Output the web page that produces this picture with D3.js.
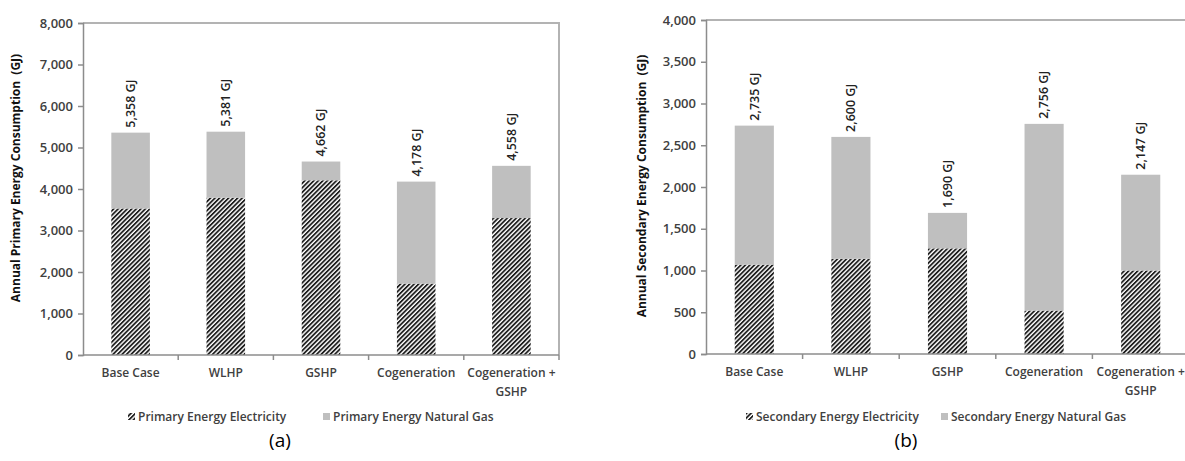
<!DOCTYPE html>
<html>
<head>
<meta charset="utf-8">
<script src="https://cdn.jsdelivr.net/npm/d3@7"></script>
<style>
  body { margin: 0; background: #fff; }
  svg { font-family: "Open Sans", sans-serif; }
</style>
</head>
<body>
<svg id="fig" width="1185" height="461"></svg>
<script>
// categories shared by both charts
var categories = ["Base Case", "WLHP", "GSHP", "Cogeneration", "Cogeneration + GSHP"]

// (a) primary energy, GJ
var primaryElectricity = [3530, 3790, 4210, 1720, 3300]
var primaryGas = [1828, 1591, 452, 2458, 1258]

// (b) secondary energy, GJ
var secondaryElectricity = [1070, 1140, 1265, 520, 1000]
var secondaryGas = [1665, 1460, 425, 2236, 1147]

var svg = d3.select("#fig")

//drawing style
var gasColor = "#bfbfbf"
var hatchColor = "#1f1f1f"
var axisColor = "#8c8c8c"
var borderColor = "#b3b3b3"
var textColor = "#404040"

//hatch pattern for electricity
var defs = svg.append("defs")
defs.append("pattern")
    .attr("id", "hatch")
    .attr("patternUnits", "userSpaceOnUse")
    .attr("width", 3.2)
    .attr("height", 3.2)
    .attr("patternTransform", "rotate(45)")
  .call(p => {
      p.append("rect").attr("width", 3.2).attr("height", 3.2).attr("fill", "#fff")
      p.append("rect").attr("width", 1.8).attr("height", 3.2).attr("fill", hatchColor)
  })

function drawChart(opts) {
    var g = svg.append("g")

    var x = d3.scaleBand()
              .domain(categories)
              .range([opts.left, opts.right])
    var y = d3.scaleLinear()
              .domain([0, opts.max])
              .range([opts.bottom, opts.top])

    var barWidth = x.bandwidth() * 0.405

    //frame: top and right border
    g.append("path")
     .attr("d", `M${opts.left},${opts.top}H${opts.right}V${opts.bottom}`)
     .attr("fill", "none")
     .attr("stroke", borderColor)
     .attr("stroke-width", 2)

    //bars
    var stacks = categories.map((c, i) => ({cat: c, elec: opts.elec[i], gas: opts.gas[i]}))

    g.selectAll(".elec")
     .data(stacks)
     .enter()
     .append("rect")
     .attr("x", d => x(d.cat) + (x.bandwidth() - barWidth) / 2)
     .attr("width", barWidth)
     .attr("y", d => y(d.elec))
     .attr("height", d => y(0) - y(d.elec))
     .attr("fill", "url(#hatch)")

    g.selectAll(".gas")
     .data(stacks)
     .enter()
     .append("rect")
     .attr("x", d => x(d.cat) + (x.bandwidth() - barWidth) / 2)
     .attr("width", barWidth)
     .attr("y", d => y(d.elec + d.gas))
     .attr("height", d => y(d.elec) - y(d.elec + d.gas))
     .attr("fill", gasColor)

    //total labels
    g.selectAll(".total")
     .data(stacks)
     .enter()
     .append("text")
     .attr("transform", d => `translate(${x(d.cat) + x.bandwidth() / 2},${y(d.elec + d.gas) - 5}) rotate(-90)`)
     .attr("dy", "0.35em")
     .attr("font-size", 12.5)
     .attr("font-weight", 600)
     .attr("fill", "#222")
     .text(d => d3.format(",")(d.elec + d.gas) + " GJ")

    //y axis
    var yAxis = g.append("g")
                 .attr("transform", `translate(${opts.left},0)`)
                 .call(d3.axisLeft(y).tickValues(d3.range(0, opts.max + 1, opts.step)).tickFormat(d3.format(",")).tickSize(5).tickPadding(5))
    yAxis.select(".domain").attr("stroke", axisColor).attr("stroke-width", 1.5)
    yAxis.selectAll(".tick line").attr("stroke", axisColor).attr("stroke-width", 1.5)
    yAxis.selectAll(".tick text").attr("font-size", 13).attr("font-weight", 600).attr("fill", textColor).attr("font-family", "Open Sans")

    //x axis line and boundary ticks
    g.append("line")
     .attr("x1", opts.left).attr("x2", opts.right)
     .attr("y1", opts.bottom).attr("y2", opts.bottom)
     .attr("stroke", axisColor).attr("stroke-width", 1.5)
    g.selectAll(".xtick")
     .data(categories.slice(1).map(c => x(c)).concat([opts.right]))
     .enter()
     .append("line")
     .attr("x1", d => d).attr("x2", d => d)
     .attr("y1", opts.bottom).attr("y2", opts.bottom + 5)
     .attr("stroke", axisColor).attr("stroke-width", 1.5)

    //category labels
    var cat = g.selectAll(".cat")
               .data(categories)
               .enter()
               .append("text")
               .attr("text-anchor", "middle")
               .attr("font-size", 12)
               .attr("font-weight", 600)
               .attr("fill", textColor)
               .attr("y", opts.bottom + 22)
    cat.each(function(d) {
        var lines = d.indexOf(" + ") > 0 ? [d.split(" + ")[0] + " +", d.split(" + ")[1]] : [d]
        d3.select(this).selectAll("tspan")
          .data(lines)
          .enter()
          .append("tspan")
          .attr("x", x(d) + x.bandwidth() / 2)
          .attr("dy", (l, i) => i == 0 ? 0 : 19)
          .text(l => l)
    })

    //y axis title
    g.append("text")
     .attr("transform", `translate(${opts.titleX},${opts.titleY}) rotate(-90)`)
     .attr("text-anchor", "middle")
     .attr("dy", "0.35em")
     .attr("font-size", 12)
     .attr("font-weight", "bold")
     .attr("fill", "#111")
     .attr("xml:space", "preserve")
     .text(opts.title)

    //legend
    var lg = g.append("g").attr("font-size", 12).attr("font-weight", 600).attr("fill", textColor)
    lg.append("rect")
      .attr("x", opts.legend[0]).attr("y", 413)
      .attr("width", 7).attr("height", 7)
      .attr("fill", "url(#hatch)")
    lg.append("text")
      .attr("x", opts.legend[0] + 10).attr("y", 417)
      .attr("dy", "0.35em")
      .text(opts.names[0])
    lg.append("rect")
      .attr("x", opts.legend[1]).attr("y", 413)
      .attr("width", 7).attr("height", 7)
      .attr("fill", gasColor)
    lg.append("text")
      .attr("x", opts.legend[1] + 10).attr("y", 417)
      .attr("dy", "0.35em")
      .text(opts.names[1])

    //caption
    g.append("text")
     .attr("x", opts.captionX).attr("y", 447)
     .attr("text-anchor", "middle")
     .attr("font-size", 19)
     .attr("fill", "#000")
     .text(opts.caption)
}

drawChart({
    left: 83, right: 559, top: 23, bottom: 355,
    max: 8000, step: 1000,
    elec: primaryElectricity, gas: primaryGas,
    title: "Annual Primary Energy Consumption  (GJ)", titleX: 16, titleY: 178,
    names: ["Primary Energy Electricity", "Primary Energy Natural Gas"],
    legend: [128, 323],
    caption: "(a)", captionX: 280
})

drawChart({
    left: 706, right: 1189, top: 20, bottom: 354,
    max: 4000, step: 500,
    elec: secondaryElectricity, gas: secondaryGas,
    title: "Annual Secondary Energy Consumption  (GJ)", titleX: 642, titleY: 186,
    names: ["Secondary Energy Electricity", "Secondary Energy Natural Gas"],
    legend: [746, 941],
    caption: "(b)", captionX: 906
})
</script>
</body>
</html>
